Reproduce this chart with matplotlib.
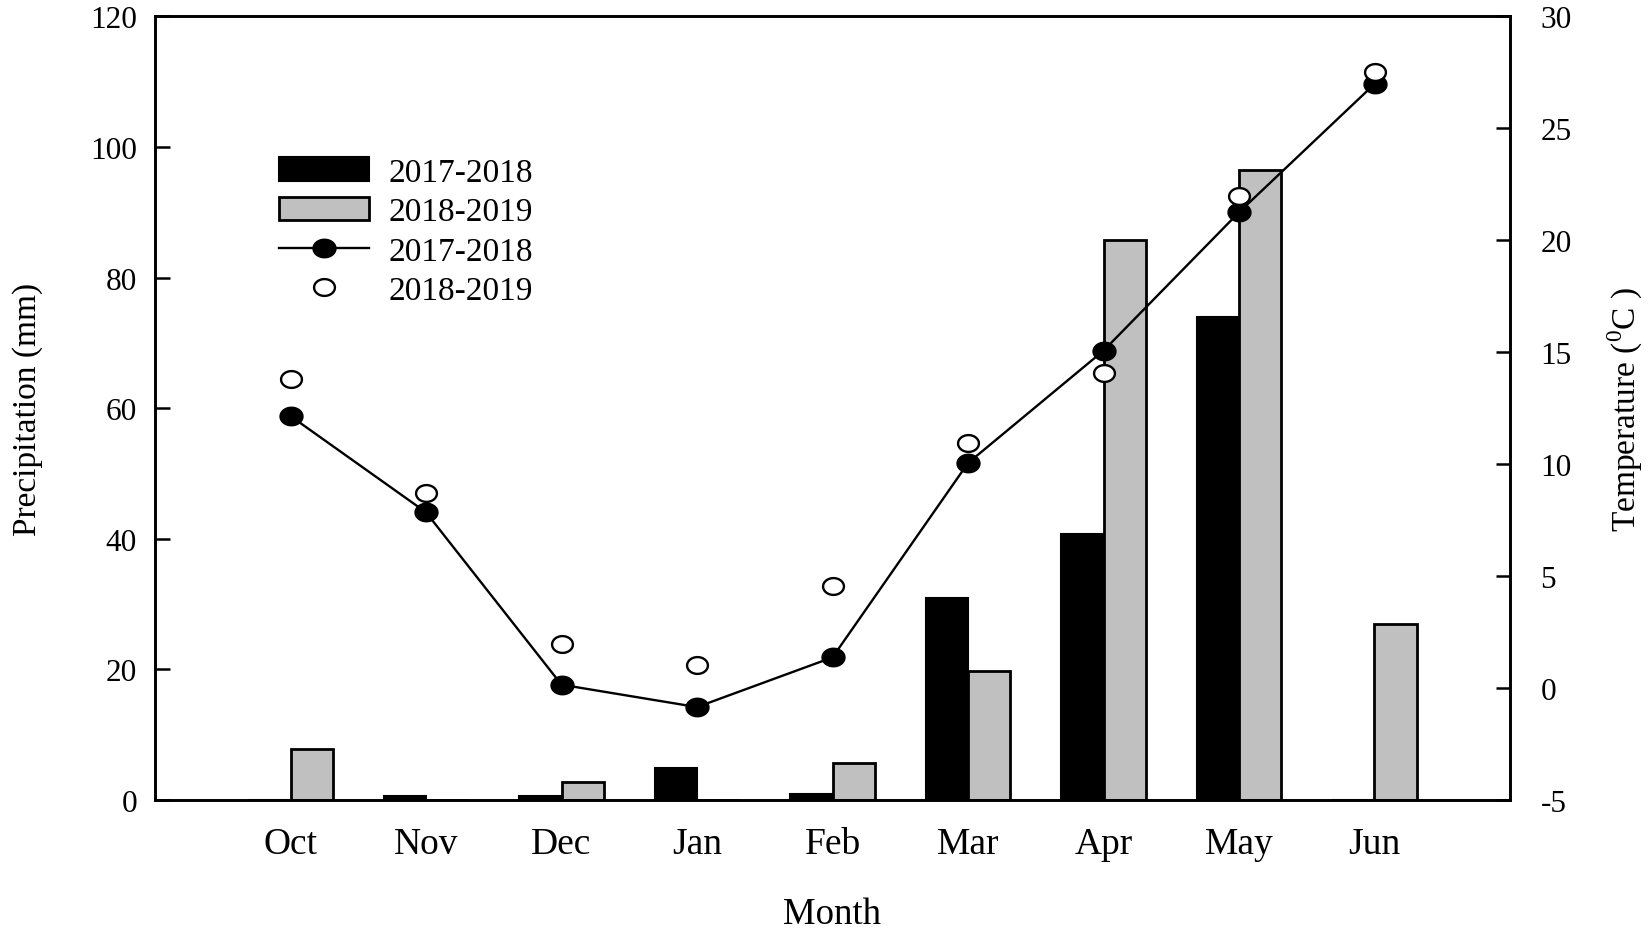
import numpy as np
import matplotlib
matplotlib.use("Agg")
import matplotlib.pyplot as plt
from matplotlib.path import Path

plt.rcParams['font.family'] = ['Liberation Serif', 'DejaVu Serif']
plt.rcParams['mathtext.fontset'] = 'custom'
plt.rcParams['mathtext.rm'] = 'Liberation Serif'
plt.rcParams['axes.unicode_minus'] = False

# ---- data ----
months = ['Oct', 'Nov', 'Dec', 'Jan', 'Feb', 'Mar', 'Apr', 'May', 'Jun']
precip_2017 = [0.0, 0.65, 0.55, 4.95, 0.95, 31.0, 40.7, 73.9, 0.0]
precip_2018 = [7.8, 0.0, 2.8, 0.0, 5.6, 19.8, 85.7, 96.5, 26.9]
temp_2017 = [12.15, 7.85, 0.15, -0.85, 1.37, 10.05, 15.07, 21.25, 26.98]
temp_2018 = [13.8, 8.72, 1.97, 1.03, 4.57, 10.93, 14.07, 21.96, 27.5]
series_labels = ['2017-2018', '2018-2019']
left_ticks = [0, 20, 40, 60, 80, 100, 120]
right_ticks = [-5, 0, 5, 10, 15, 20, 25, 30]

W, H = 1652, 937
fig = plt.figure(figsize=(W / 100, H / 100), dpi=100)
L, R, T, B = 155, 1510, 17.4, 801
ax1 = fig.add_axes([L / W, (H - B) / H, (R - L) / W, (B - T) / H])
ax2 = ax1.twinx()

x = np.arange(len(months))
w = 0.31
gray = '#c0c0c0'
b1 = ax1.bar(x - w / 2, precip_2017, width=w, color='black', edgecolor='black',
             linewidth=1.5, label=series_labels[0])
b2 = ax1.bar(x + w / 2, precip_2018, width=w, color=gray, edgecolor='black',
             linewidth=2.0, label=series_labels[1])

# horizontally stretched ellipse marker
th = np.linspace(0, 2 * np.pi, 80)
ell = Path(np.column_stack([1.24 * np.cos(th), np.sin(th)]), closed=True)

l1, = ax2.plot(x, temp_2017, color='black', lw=1.7, marker=ell, ms=16.5,
               mfc='black', mec='black', mew=1.0, label=series_labels[0], zorder=3)
l2, = ax2.plot(x, temp_2018, ls='none', marker=ell, ms=15.0,
               mfc='white', mec='black', mew=1.7, label=series_labels[1], zorder=4)

ax1.set_xlim(-1, 9)
ax1.set_ylim(0, 120)
ax2.set_ylim(-5, 30)
ax1.set_yticks(left_ticks)
ax2.set_yticks(right_ticks)
ax1.set_xticks(x)
ax1.set_xticklabels(months)

for ax in (ax1, ax2):
    for s in ax.spines.values():
        s.set_linewidth(1.9)

ax1.tick_params(axis='x', length=0, pad=19, labelsize=27)
ax1.tick_params(axis='y', direction='in', length=10.5, width=1.8, pad=13, labelsize=22.5)
ax2.tick_params(axis='y', direction='in', length=10, width=1.8, pad=22, labelsize=22.5)

ax1.set_xlabel('Month', fontsize=26.5)
ax1.xaxis.set_label_coords(0.5, (B - 898) / (B - T))
ax1.set_ylabel('Precipitation (mm)', fontsize=24)
ax1.yaxis.set_label_coords((43 - L) / (R - L), 0.5)
ax2.set_ylabel(r'Temperature ($^{\rm 0}$C )', fontsize=24, rotation=90)
ax2.yaxis.set_label_coords((1606 - L) / (R - L), 0.5)

ax2.legend([b1, b2, l1, l2], series_labels + series_labels,
           loc='upper left', bbox_to_anchor=(279 / W, (H - 158) / H),
           bbox_transform=fig.transFigure, frameon=False, borderpad=0,
           borderaxespad=0, handlelength=2.7, handleheight=0.72,
           handletextpad=0.6, labelspacing=0.27, fontsize=24)

fig.savefig('out.png', dpi=100)
